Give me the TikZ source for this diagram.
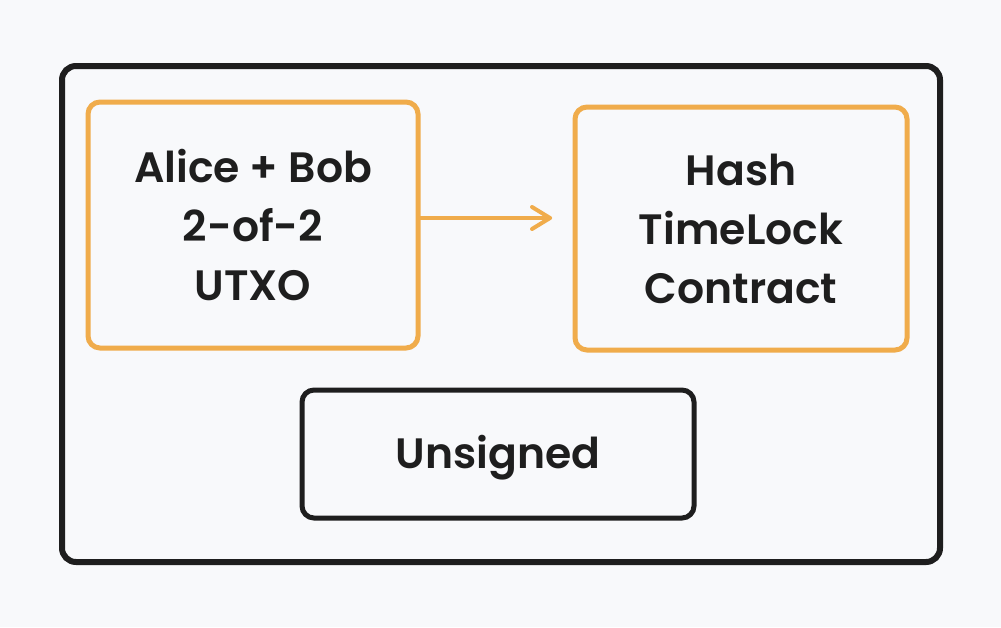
\documentclass[tikz,border=0pt]{standalone}
\usepackage{fontspec}
\setmainfont{Poppins}[BoldFont={Poppins SemiBold}]
\definecolor{bgc}{HTML}{F8F9FB}
\definecolor{inkc}{HTML}{1E1E1E}
\definecolor{orc}{HTML}{F0AC4B}
\tikzset{
  framebox/.style={draw=inkc, line width=6pt, rounded corners=14pt},
  orbox/.style={draw=orc, line width=5pt, rounded corners=12pt, inner sep=0pt},
  blkbox/.style={draw=inkc, line width=5pt, rounded corners=12pt, inner sep=0pt},
  lbl/.style={font=\fontsize{42.5}{59}\selectfont\bfseries, text=inkc, align=center},
  arr/.style={draw=orc, line width=4pt, line cap=round, line join=round}
}
\begin{document}
\begin{tikzpicture}[x=1pt,y=-1pt]
\fill[bgc] (0,0) rectangle (1001,627);
\useasboundingbox (0,0) rectangle (1001,627);
\draw[framebox] (62,66) rectangle (940,562);
\node[orbox, minimum width=330pt, minimum height=246pt] (a) at (253,225) {};
\node[lbl] at (a.center) {Alice + Bob\\2-of-2\\UTXO};
\node[orbox, minimum width=332pt, minimum height=243pt] (b) at (741,228.5) {};
\node[lbl] at (b.center) {Hash\\TimeLock\\Contract};
\node[blkbox, minimum width=392pt, minimum height=128pt] (c) at (498,454) {};
\node[lbl] at ([yshift=-4pt]c.center) {Unsigned};
\coordinate (tip) at (550,218);
\draw[arr] (a.east |- 0,218) -- (tip);
\draw[arr] (532,207) -- (tip) -- (532,229);
\end{tikzpicture}
\end{document}
